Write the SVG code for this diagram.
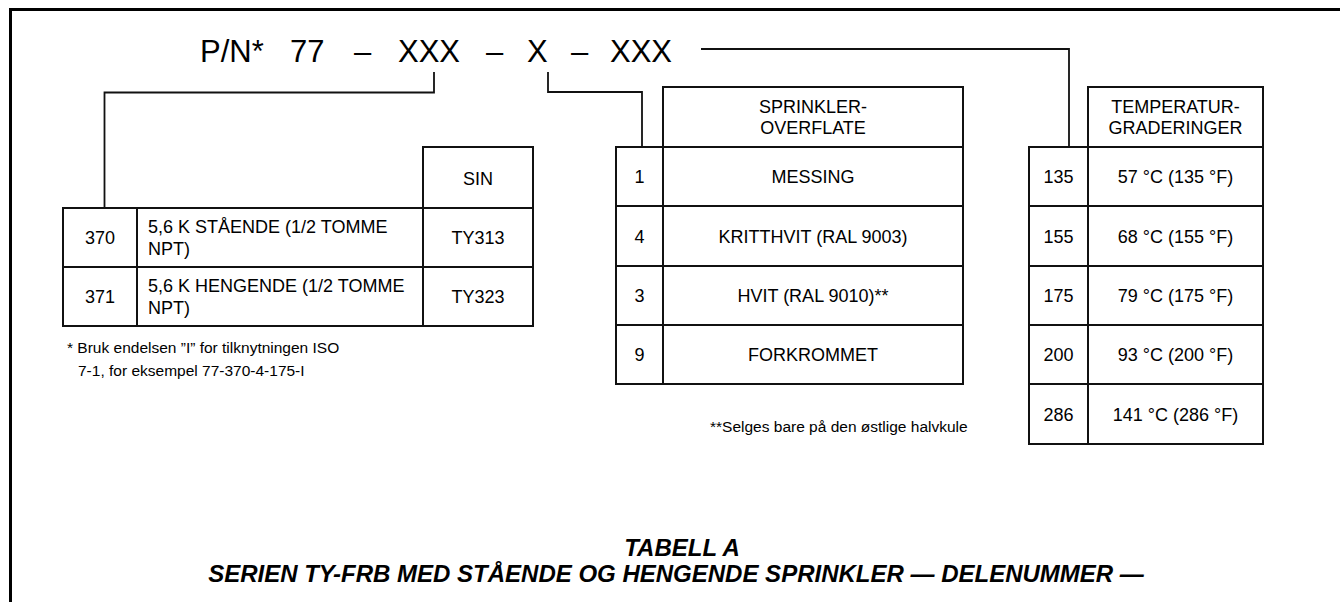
<svg xmlns="http://www.w3.org/2000/svg" width="1340" height="602" viewBox="0 0 1340 602">
<style>
  .frame{fill:none;stroke:#000;stroke-width:3}
  .cell{fill:#fff;stroke:#111;stroke-width:2}
  .conn{fill:none;stroke:#111;stroke-width:1.8}
  .t{font-family:"Liberation Sans",Arial,Helvetica,sans-serif;font-size:18px;fill:#000}
  .c{text-anchor:middle}
  .pn{font-family:"Liberation Sans",Arial,Helvetica,sans-serif;font-size:31px;fill:#000}
  .note{font-family:"Liberation Sans",Arial,Helvetica,sans-serif;font-size:15.5px;fill:#000}
  .cap{font-family:"Liberation Sans",Arial,Helvetica,sans-serif;font-size:24px;font-weight:bold;font-style:italic;fill:#000;text-anchor:middle}
</style>
<rect width="1340" height="602" fill="#fff"/>
<path class="frame" d="M10.5,602 V9.5 H1340"/>

<g id="partnumber">
  <text class="pn" x="200" y="62">P/N*</text>
  <text class="pn" x="290" y="62">77</text>
  <text class="pn" x="354" y="62">–</text>
  <text class="pn" x="398" y="62">XXX</text>
  <text class="pn" x="486" y="62">–</text>
  <text class="pn" x="527" y="62">X</text>
  <text class="pn" x="571" y="62">–</text>
  <text class="pn" x="610" y="62">XXX</text>
</g>

<g id="connectors">
  <path class="conn" d="M434,72 V92.5 H104.5 V208"/>
  <path class="conn" d="M548,72 V92 H642 V147"/>
  <path class="conn" d="M701,49 H1069 V147"/>
</g>

<g id="model-table">
  <rect class="cell" x="423" y="147" width="110" height="61"/>
  <text class="t c" x="478" y="185">SIN</text>
  <rect class="cell" x="63" y="208" width="74" height="59"/>
  <rect class="cell" x="137" y="208" width="286" height="59"/>
  <rect class="cell" x="423" y="208" width="110" height="59"/>
  <rect class="cell" x="63" y="267" width="74" height="59"/>
  <rect class="cell" x="137" y="267" width="286" height="59"/>
  <rect class="cell" x="423" y="267" width="110" height="59"/>
  <text class="t c" x="100" y="244">370</text>
  <text class="t" x="148" y="233">5,6 K STÅENDE (1/2 TOMME</text>
  <text class="t" x="148" y="255">NPT)</text>
  <text class="t c" x="478" y="244">TY313</text>
  <text class="t c" x="100" y="303">371</text>
  <text class="t" x="148" y="292">5,6 K HENGENDE (1/2 TOMME</text>
  <text class="t" x="148" y="314">NPT)</text>
  <text class="t c" x="478" y="303">TY323</text>
</g>

<g id="model-note">
  <text class="note" x="67" y="353">*  Bruk endelsen ”I” for tilknytningen ISO</text>
  <text class="note" x="78" y="376">7-1, for eksempel 77-370-4-175-I</text>
</g>

<g id="finish-table">
  <rect class="cell" x="663" y="87" width="300" height="60"/>
  <text class="t c" x="813" y="113">SPRINKLER-</text>
  <text class="t c" x="813" y="134">OVERFLATE</text>
  <rect class="cell" x="616" y="147" width="47" height="59"/>
  <rect class="cell" x="663" y="147" width="300" height="59"/>
  <rect class="cell" x="616" y="206" width="47" height="60"/>
  <rect class="cell" x="663" y="206" width="300" height="60"/>
  <rect class="cell" x="616" y="266" width="47" height="59"/>
  <rect class="cell" x="663" y="266" width="300" height="59"/>
  <rect class="cell" x="616" y="325" width="47" height="59"/>
  <rect class="cell" x="663" y="325" width="300" height="59"/>
  <text class="t c" x="639.5" y="183">1</text>
  <text class="t c" x="813" y="183">MESSING</text>
  <text class="t c" x="639.5" y="242.5">4</text>
  <text class="t c" x="813" y="242.5">KRITTHVIT (RAL 9003)</text>
  <text class="t c" x="639.5" y="302">3</text>
  <text class="t c" x="813" y="302">HVIT (RAL 9010)**</text>
  <text class="t c" x="639.5" y="361">9</text>
  <text class="t c" x="813" y="361">FORKROMMET</text>
</g>

<g id="finish-note">
  <text class="note" x="710" y="432">**Selges bare på den østlige halvkule</text>
</g>

<g id="temp-table">
  <rect class="cell" x="1088" y="87" width="175" height="60"/>
  <text class="t c" x="1175.5" y="113">TEMPERATUR-</text>
  <text class="t c" x="1175.5" y="134">GRADERINGER</text>
  <rect class="cell" x="1029" y="147" width="59" height="59"/>
  <rect class="cell" x="1088" y="147" width="175" height="59"/>
  <rect class="cell" x="1029" y="206" width="59" height="60"/>
  <rect class="cell" x="1088" y="206" width="175" height="60"/>
  <rect class="cell" x="1029" y="266" width="59" height="59"/>
  <rect class="cell" x="1088" y="266" width="175" height="59"/>
  <rect class="cell" x="1029" y="325" width="59" height="59"/>
  <rect class="cell" x="1088" y="325" width="175" height="59"/>
  <rect class="cell" x="1029" y="384" width="59" height="60"/>
  <rect class="cell" x="1088" y="384" width="175" height="60"/>
  <text class="t c" x="1058.5" y="183">135</text>
  <text class="t c" x="1175.5" y="183">57 °C (135 °F)</text>
  <text class="t c" x="1058.5" y="242.5">155</text>
  <text class="t c" x="1175.5" y="242.5">68 °C (155 °F)</text>
  <text class="t c" x="1058.5" y="302">175</text>
  <text class="t c" x="1175.5" y="302">79 °C (175 °F)</text>
  <text class="t c" x="1058.5" y="361">200</text>
  <text class="t c" x="1175.5" y="361">93 °C (200 °F)</text>
  <text class="t c" x="1058.5" y="420.5">286</text>
  <text class="t c" x="1175.5" y="420.5">141 °C (286 °F)</text>
</g>

<g id="caption">
  <text class="cap" x="682" y="556">TABELL A</text>
  <text class="cap" x="676" y="582">SERIEN TY-FRB MED STÅENDE OG HENGENDE SPRINKLER — DELENUMMER —</text>
</g>
</svg>
